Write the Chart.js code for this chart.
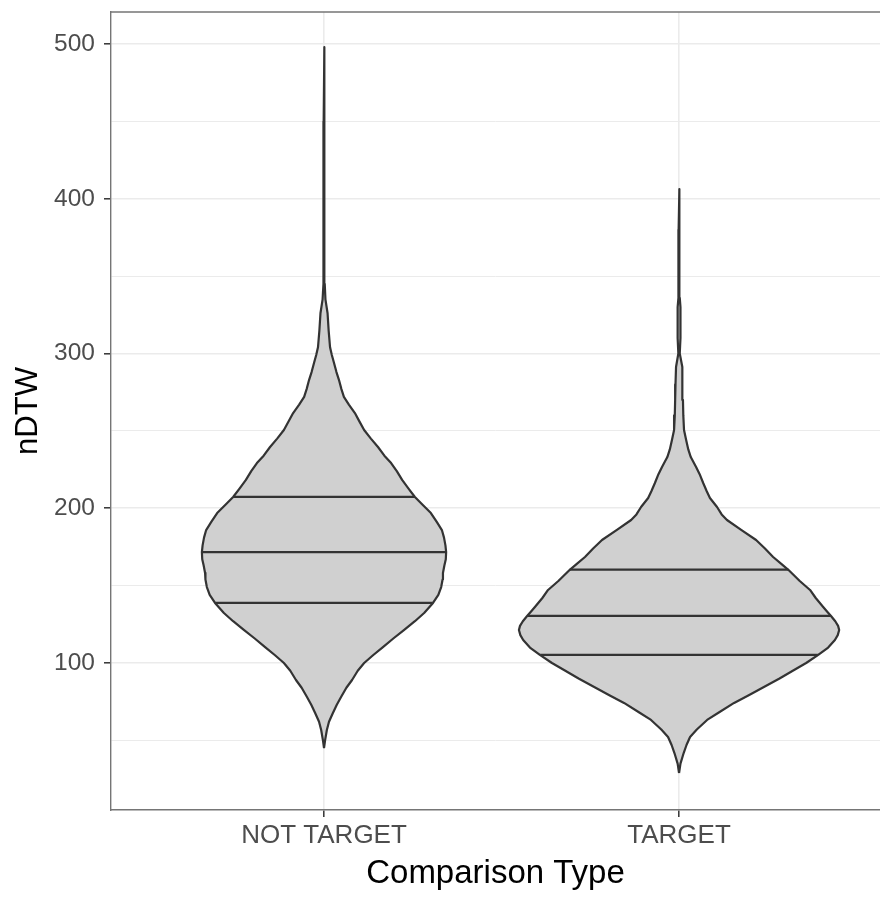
<!DOCTYPE html>
<html>
<head>
<meta charset="utf-8">
<title>nDTW by Comparison Type</title>
<script src="https://cdn.jsdelivr.net/npm/chart.js@4/dist/chart.umd.min.js"></script>
<style>
  html, body { margin: 0; padding: 0; background: #ffffff; }
  #chartBox { width: 880px; height: 898px; }
</style>
</head>
<body>
<div id="chartBox"><canvas id="violinChart" width="880" height="898"></canvas></div>
<script>
// Categories on the x axis
const categories = ['NOT TARGET', 'TARGET'];

// Y axis ticks (labelled) and minor grid positions
const majorTicks = [100, 200, 300, 400, 500];
const minorTicks = [50, 150, 250, 350, 450];

// Violin outline for NOT TARGET: nDTW level and half width (in category units)
const notTargetLevels = [45, 50, 56.7, 62, 67.7, 73, 78, 84, 89, 95, 100, 105, 110.3, 116, 121.3, 127, 132.3, 138.8, 144, 149.1, 154, 158.2, 163, 167, 171.7, 176, 181, 185.9, 191, 196.9, 202, 207.3, 213, 218.3, 224, 229.2, 234, 239.6, 245, 250.6, 256, 261.5, 267, 272, 277, 283, 288, 294, 299, 304, 315, 326, 335, 345, 360, 400, 450, 498];
const notTargetHalfWidth = [0, 0.003, 0.008, 0.014, 0.025, 0.036, 0.048, 0.063, 0.079, 0.095, 0.113, 0.138, 0.166, 0.196, 0.225, 0.256, 0.282, 0.307, 0.322, 0.330, 0.334, 0.335, 0.339, 0.343, 0.344, 0.342, 0.338, 0.332, 0.318, 0.301, 0.279, 0.256, 0.237, 0.220, 0.205, 0.189, 0.170, 0.152, 0.132, 0.113, 0.100, 0.087, 0.070, 0.056, 0.049, 0.042, 0.035, 0.028, 0.022, 0.017, 0.013, 0.010, 0.004, 0.002, 0.0015, 0.0012, 0.001, 0];

// Violin outline for TARGET
const targetLevels = [28.9, 35, 41.8, 47, 52.2, 57, 63.2, 68, 74.2, 79, 84.5, 90, 95.5, 100, 105.2, 110, 114.9, 118, 121.3, 124, 127, 130.4, 133, 136.2, 142, 147.2, 153, 160.4, 164, 168.5, 174, 179.5, 186, 192.4, 196, 200.8, 206.6, 211, 216.3, 222, 226.7, 233.1, 238, 244.1, 250.6, 260, 270, 280, 291.3, 300, 310, 320, 330, 336, 350, 380, 406.3];
const targetHalfWidth = [0, 0.004, 0.013, 0.021, 0.031, 0.050, 0.079, 0.112, 0.155, 0.195, 0.239, 0.283, 0.324, 0.358, 0.392, 0.420, 0.439, 0.447, 0.451, 0.448, 0.440, 0.428, 0.418, 0.406, 0.385, 0.369, 0.340, 0.307, 0.288, 0.265, 0.242, 0.217, 0.175, 0.135, 0.120, 0.107, 0.087, 0.078, 0.068, 0.058, 0.048, 0.033, 0.026, 0.020, 0.014, 0.012, 0.011, 0.010, 0.0085, 0.002, 0.004, 0.004, 0.004, 0.002, 0.0015, 0.0012, 0];

// Quartiles (25%, 50%, 75%) and the violin half width at each
const notTargetQuartiles = [138.8, 171.7, 207.3];
const notTargetQuartileHalfWidth = [0.306, 0.343, 0.256];
const targetQuartiles = [105.2, 130.4, 160.4];
const targetQuartileHalfWidth = [0.391, 0.427, 0.308];

const outlineColor = '#333333';
const fillColor = '#d0d0d0';
const gridColor = '#ebebeb';
const borderColor = '#757575';

Chart.defaults.font.family = "'Liberation Sans', Arial, Helvetica, sans-serif";

// Function to build a closed violin polygon around a category position
function violinPoints(center, levels, halfWidth) {
    const right = levels.map((v, i) => ({ x: center + halfWidth[i], y: v }));
    const left = [];
    for (let i = levels.length - 2; i >= 0; i--) {
        left.push({ x: center - halfWidth[i], y: levels[i] });
    }
    return right.concat(left);
}

// Function to build quartile segment datasets (drawn on top of the violins)
function quartileDatasets(center, quartiles, halfWidth) {
    return quartiles.map((q, i) => ({
        data: [{ x: center - halfWidth[i], y: q }, { x: center + halfWidth[i], y: q }],
        showLine: true,
        borderColor: outlineColor,
        borderWidth: 2.2,
        pointRadius: 0,
        fill: false,
        order: 1
    }));
}

function violinDataset(center, levels, halfWidth) {
    return {
        data: violinPoints(center, levels, halfWidth),
        showLine: true,
        borderColor: outlineColor,
        backgroundColor: fillColor,
        borderWidth: 2.2,
        borderJoinStyle: 'round',
        pointRadius: 0,
        tension: 0,
        fill: 'shape',
        order: 2
    };
}

const positions = categories.map((c, i) => i + 1);

const datasets = [
    violinDataset(positions[0], notTargetLevels, notTargetHalfWidth),
    violinDataset(positions[1], targetLevels, targetHalfWidth)
].concat(
    quartileDatasets(positions[0], notTargetQuartiles, notTargetQuartileHalfWidth),
    quartileDatasets(positions[1], targetQuartiles, targetQuartileHalfWidth)
);

// Top edge of the panel border
const panelTop = {
    id: 'panelTop',
    afterDraw(chart) {
        const { ctx, chartArea } = chart;
        ctx.save();
        ctx.strokeStyle = borderColor;
        ctx.lineWidth = 1.4;
        ctx.beginPath();
        ctx.moveTo(chartArea.left, chartArea.top);
        ctx.lineTo(chartArea.right, chartArea.top);
        ctx.stroke();
        ctx.restore();
    }
};

const isMajor = v => majorTicks.includes(v);

new Chart(document.getElementById('violinChart').getContext('2d'), {
    type: 'scatter',
    data: { datasets: datasets },
    plugins: [panelTop],
    options: {
        responsive: false,
        animation: false,
        layout: { padding: { top: 12, left: 0, right: 0, bottom: 0 } },
        plugins: {
            legend: { display: false },
            tooltip: { enabled: false }
        },
        scales: {
            x: {
                type: 'linear',
                min: 0.4,
                max: 2.566,
                afterBuildTicks: s => { s.ticks = positions.map(v => ({ value: v })); },
                afterFit: s => { s.height = 88; s.paddingLeft = 0; s.paddingRight = 0; },
                ticks: {
                    autoSkip: false,
                    maxRotation: 0,
                    padding: 3,
                    color: '#4d4d4d',
                    font: { size: 26 },
                    callback: v => categories[v - 1]
                },
                grid: {
                    color: gridColor,
                    lineWidth: 1.6,
                    tickLength: 7,
                    tickColor: outlineColor,
                    tickWidth: 1.5
                },
                border: { display: true, color: borderColor, width: 1.4 },
                title: {
                    display: true,
                    text: 'Comparison Type',
                    color: '#000000',
                    font: { size: 33 },
                    padding: { top: 0, bottom: 4 }
                }
            },
            y: {
                type: 'linear',
                min: 5,
                max: 520.7,
                afterBuildTicks: s => {
                    s.ticks = minorTicks.concat(majorTicks).sort((a, b) => a - b).map(v => ({ value: v }));
                },
                afterFit: s => { s.width = 111; s.paddingTop = 0; s.paddingBottom = 0; },
                ticks: {
                    autoSkip: false,
                    padding: 9,
                    color: '#4d4d4d',
                    font: { size: 24.5 },
                    callback: v => isMajor(v) ? String(v) : ''
                },
                grid: {
                    color: gridColor,
                    lineWidth: ctx => isMajor(ctx.tick.value) ? 1.6 : 1,
                    tickLength: 7,
                    tickColor: ctx => isMajor(ctx.tick.value) ? outlineColor : 'rgba(0,0,0,0)',
                    tickWidth: 1.5
                },
                border: { display: true, color: borderColor, width: 1.4 },
                title: {
                    display: true,
                    text: 'nDTW',
                    color: '#000000',
                    font: { size: 31 },
                    padding: { top: 10, bottom: 0 }
                }
            }
        }
    }
});
</script>
</body>
</html>
